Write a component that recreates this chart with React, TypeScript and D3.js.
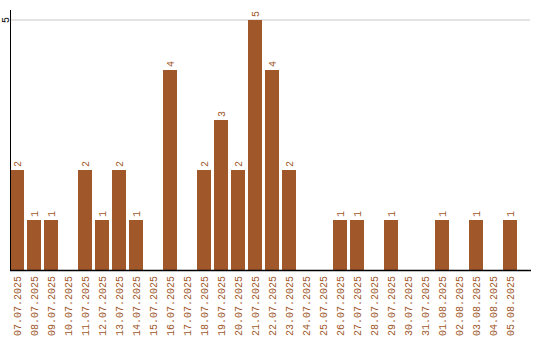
import React from "react";
import * as d3 from "d3";

const dates = [
  "07.07.2025","08.07.2025","09.07.2025","10.07.2025","11.07.2025","12.07.2025",
  "13.07.2025","14.07.2025","15.07.2025","16.07.2025","17.07.2025","18.07.2025",
  "19.07.2025","20.07.2025","21.07.2025","22.07.2025","23.07.2025","24.07.2025",
  "25.07.2025","26.07.2025","27.07.2025","28.07.2025","29.07.2025","30.07.2025",
  "31.07.2025","01.08.2025","02.08.2025","03.08.2025","04.08.2025","05.08.2025",
];
const counts = [2,1,1,0,2,1,2,1,0,4,0,2,3,2,5,4,2,0,0,1,1,0,1,0,0,1,0,1,0,1];
const yTicks = [5];

const COLOR = "#a0572a";
const FONT = "'Liberation Mono', 'DejaVu Sans Mono', monospace";

export default function App() {
  const x = d3.scaleBand<string>().domain(dates).range([10, 517]).paddingInner(3 / 17).paddingOuter(0);
  const y = d3.scaleLinear().domain([0, 5]).range([270, 20]);
  return (
    <svg width={540} height={340} style={{ position: "absolute", left: 0, top: 0, background: "#fff" }}>
      {yTicks.map((t) => (
        <g key={t}>
          <line x1={10} x2={530} y1={y(t)} y2={y(t)} stroke="#c8c8c8" strokeWidth={1} />
          <text
            transform={`translate(5,${y(t)}) rotate(-90)`}
            textAnchor="middle"
            dy="0.35em"
            fontFamily={FONT}
            fontSize={10}
            fill="#000"
          >
            {t}
          </text>
        </g>
      ))}
      {dates.map((d, i) => {
        const v = counts[i];
        const bx = x(d)!;
        const cx = bx + x.bandwidth() / 2;
        return (
          <g key={d}>
            {v > 0 && (
              <>
                <rect x={bx} y={y(v)} width={x.bandwidth()} height={y(0) - y(v)} fill={COLOR} />
                <text
                  transform={`translate(${cx},${y(v) - 3}) rotate(-90)`}
                  textAnchor="start"
                  dy="0.35em"
                  fontFamily={FONT}
                  fontSize={10}
                  fill={COLOR}
                >
                  {v}
                </text>
              </>
            )}
            <text
              transform={`translate(${cx},276) rotate(-90)`}
              textAnchor="end"
              dy="0.35em"
              fontFamily={FONT}
              fontSize={10}
              fill={COLOR}
            >
              {d}
            </text>
          </g>
        );
      })}
      <line x1={10.5} x2={10.5} y1={10} y2={270} stroke="#000" strokeWidth={1} />
      <line x1={10} x2={531} y1={270.5} y2={270.5} stroke="#000" strokeWidth={1.5} />
    </svg>
  );
}
